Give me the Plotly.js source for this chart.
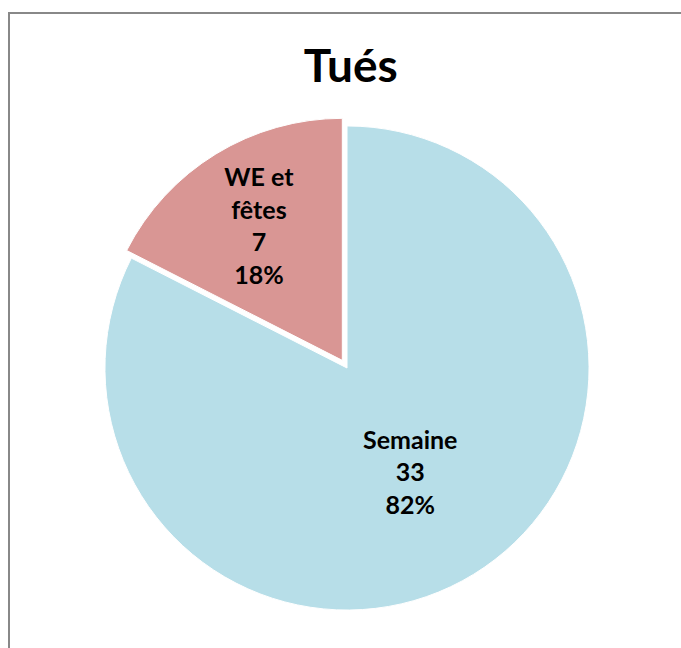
<!DOCTYPE html>
<html>
<head>
<meta charset="utf-8">
<script src="https://cdn.plot.ly/plotly-3.0.1.min.js"></script>
<style>html,body{margin:0;padding:0;background:#fff;}#chart{width:681px;height:648px;}</style>
</head>
<body>
<div id="chart"></div>
<script>
const categories = ["Semaine", "WE et<br>fêtes"];
const values = [33, 7];
const percentLabels = ["82%", "18%"];
const colors = ["#B7DEE8", "#D99694"];
const pulls = [0, 0.037];

const W = 681, H = 648;
const trace = {
  type: "pie",
  labels: categories,
  values: values,
  text: percentLabels,
  sort: false,
  direction: "clockwise",
  rotation: 0,
  pull: pulls,
  marker: {colors: colors, line: {color: "#ffffff", width: 1}},
  texttemplate: "%{label}<br>%{value}<br>%{text}",
  textposition: "inside",
  insidetextorientation: "horizontal",
  textfont: {family: "Lato, 'Open Sans', sans-serif", size: 25, color: "#000000", weight: "bold"},
  domain: {x: [96 / W, 598 / W], y: [29 / H, 531 / H]},
  hoverinfo: "none",
  showlegend: false
};

const layout = {
  width: W, height: H,
  margin: {l: 0, r: 0, t: 0, b: 0},
  paper_bgcolor: "#ffffff",
  title: {text: "<b>Tués</b>", x: 0.515, xanchor: "center", y: 1 - 66 / H, yanchor: "middle",
          font: {family: "Lato, 'Open Sans', sans-serif", size: 46, color: "#000000"}},
  shapes: [{type: "rect", xref: "paper", yref: "paper",
            x0: 9 / W, x1: 1.05, y0: -0.05, y1: 1 - 13 / H,
            line: {color: "#888888", width: 2}}],
  showlegend: false
};

Plotly.newPlot("chart", [trace], layout, {displayModeBar: false, staticPlot: true});
</script>
</body>
</html>
